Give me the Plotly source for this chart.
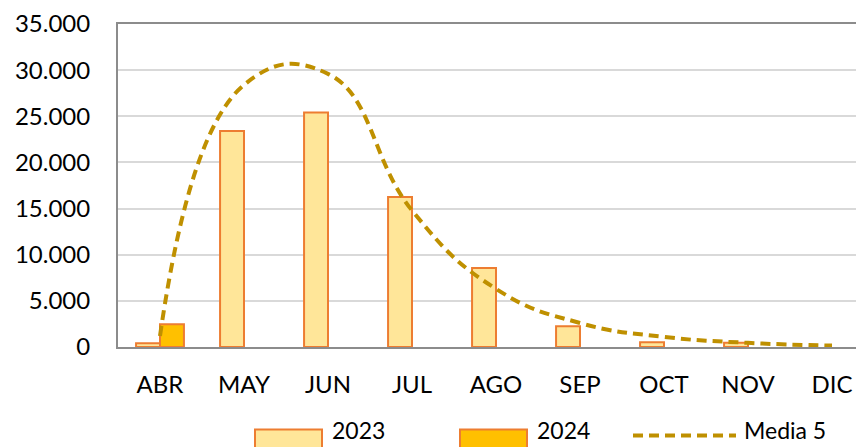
import plotly.graph_objects as go

months = ["ABR", "MAY", "JUN", "JUL", "AGO", "SEP", "OCT", "NOV", "DIC"]
v2023 = [400, 23400, 25400, 16250, 8550, 2250, 520, 450, None]
v2024 = [2470, None, None, None, None, None, None, None, None]
media5 = [1200, 28400, 29600, 14800, 6300, 2600, 1100, 450, 150]

legend_labels = ["2023", "2024", "Media 5"]

FONT = "Lato"
OFF = 8                      # page body margin
W, H = 864 - OFF, 447 - OFF  # figure size
PL, PT, PB = 118, 22, 347    # plot area in page pixels
PR = 864
pw, ph = PR - PL, PB - PT


def px(x):
    return (x - PL) / pw


def py(y):
    return (PB - y) / ph


fig = go.Figure()
fig.add_trace(go.Bar(x=months, y=v2023, name=legend_labels[0],
                     marker=dict(color="#FFE699", line=dict(color="#ED7D31", width=2)),
                     showlegend=False))
fig.add_trace(go.Bar(x=months, y=v2024, name=legend_labels[1],
                     marker=dict(color="#FFC000", line=dict(color="#ED7D31", width=2)),
                     showlegend=False))
fig.add_trace(go.Scatter(x=months, y=media5, name=legend_labels[2], mode="lines",
                         line=dict(color="#BF9000", width=4, dash="10px,6px",
                                   shape="spline", smoothing=1.3),
                         showlegend=False))

shapes = [
    dict(type="rect", xref="paper", yref="paper", x0=px(255), x1=px(322), y0=py(455), y1=py(430),
         fillcolor="#FFE699", line=dict(color="#ED7D31", width=2)),
    dict(type="rect", xref="paper", yref="paper", x0=px(460), x1=px(527), y0=py(455), y1=py(430),
         fillcolor="#FFC000", line=dict(color="#ED7D31", width=2)),
    dict(type="line", xref="paper", yref="paper", x0=px(633), x1=px(736), y0=py(436), y1=py(436),
         line=dict(color="#BF9000", width=4, dash="10px,6px")),
]

annotations = []
for label, xpix in zip(legend_labels, [330, 535, 742]):
    annotations.append(dict(text=label, xref="paper", yref="paper", x=px(xpix), y=py(431),
                            xanchor="left", yanchor="middle", showarrow=False,
                            font=dict(family=FONT, size=23, color="#000000")))

fig.update_layout(
    width=W, height=H,
    margin=dict(l=PL - OFF, r=0, t=PT - OFF, b=H - (PB - OFF), pad=0),
    paper_bgcolor="white", plot_bgcolor="white",
    barmode="group", bargap=0.43, bargroupgap=0,
    separators=",.",
    font=dict(family=FONT, size=24, color="#000000"),
    shapes=shapes, annotations=annotations,
    showlegend=False,
)
fig.update_xaxes(range=[-0.5, 8.5 - (PL + 9 * 84 - PR) / 84], showline=True, linecolor="#8C8C8C",
                 linewidth=2, mirror=True, showgrid=False, ticks="",
                 ticklabelstandoff=15, tickfont=dict(family=FONT, size=24))
fig.update_yaxes(range=[0, 35000], dtick=5000, tickformat=",.0f", showline=True,
                 linecolor="#8C8C8C", linewidth=2, gridcolor="#D9D9D9", gridwidth=2,
                 zeroline=False, ticks="", ticklabelstandoff=21, ticklabeloverflow="allow",
                 tickfont=dict(family=FONT, size=24))

fig.write_html("out.html")
